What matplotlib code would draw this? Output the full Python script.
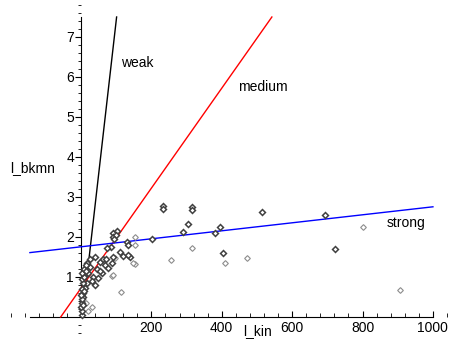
import numpy as np
import matplotlib.pyplot as plt
from matplotlib.ticker import MultipleLocator

plt.rcParams['font.family'] = ['Liberation Sans', 'DejaVu Sans']

# points drawn dark (overlapping duplicates) and light
dark_kin = [395, 513, 693, 404, 722, 303, 291, 381, 234, 234, 316, 316, 201, 130, 134,
            139, 120, 92, 101, 90, 84, 73, 40, 54, 68, 78, 26, 21, 35, 49, 16, 11, 7,
            134, 92, 87, 45, 60, 30, 18, 25, 62, 100, 95, 110, 40, 55, 70,
            2, 3, 1, 4, 2, 5, 3, 6, 2, 8, 4, 10, 1, 6, 9, 13, 15]
dark_bkmn = [2.25, 2.63, 2.55, 1.59, 1.71, 2.32, 2.12, 2.09, 2.77, 2.70, 2.74, 2.68, 1.95, 1.88, 1.80,
             1.49, 1.52, 2.09, 2.16, 2.00, 1.76, 1.72, 1.49, 1.38, 1.30, 1.22, 1.26, 1.09, 1.01, 0.97, 0.84, 0.72, 0.51,
             1.55, 1.51, 1.34, 1.20, 1.10, 0.90, 1.35, 1.45, 1.45, 2.05, 1.95, 1.62, 0.80, 1.15, 1.45,
             0.05, 0.15, 0.25, 0.35, 0.45, 0.60, 0.70, 0.85, 0.95, 1.00, 1.10, 1.20, 0.55, 0.30, 0.65, 1.30, 1.15]
light_kin = [802, 409, 472, 906, 316, 255, 153, 153, 97, 153, 87, 113, 30, 149, 92, 14, 20]
light_bkmn = [2.26, 1.36, 1.47, 0.675, 1.73, 1.43, 2.00, 1.80, 1.47, 1.33, 1.03, 0.63, 0.24, 1.34, 1.05, 0.34, 0.15]

# fitted lines: intercept, slope
fit_names = ["weak", "medium", "strong"]
fit_intercepts = [-0.3, 0.72, 1.755]
fit_slopes = [0.077, 0.0125, 0.001]
fit_colors = ["black", "red", "blue"]
fit_label_pos = [(114, 6.35), (446, 5.75), (869, 2.35)]

y_top = 7.5
x_left, x_right = -145, 1000

fig = plt.figure(figsize=(4.53, 3.39), dpi=100)
ax = fig.add_axes([0, 0, 1, 1])
ax.set_xlim(-230, 1057)
ax.set_ylim(-0.55, 7.925)

for b0, b1, c in zip(fit_intercepts, fit_slopes, fit_colors):
    x0 = max(x_left, -b0 / b1)
    x1 = min(x_right, (y_top - b0) / b1)
    xs = np.array([x0, x1])
    ax.plot(xs, b0 + b1 * xs, color=c, lw=1.0, zorder=3)

ax.plot(light_kin, light_bkmn, 'D', ms=2.9, mfc='white', mec='#8c8c8c', mew=0.8, zorder=4)
ax.plot(dark_kin, dark_bkmn, 'D', ms=3.0, mfc='white', mec='#404040', mew=1.1, zorder=5)

for name, (tx, ty) in zip(fit_names, fit_label_pos):
    ax.text(tx, ty, name, fontsize=10, ha='left', va='center')

ax.text(-200, 3.73, "l_bkmn", fontsize=10, ha='left', va='center')
ax.text(460, -0.36, "l_kin", fontsize=10, ha='left', va='center')

for s in ['top', 'right']:
    ax.spines[s].set_visible(False)
ax.spines['left'].set_position(('data', 0))
ax.spines['bottom'].set_position(('data', 0))
ax.spines['left'].set_bounds(0, y_top)
ax.spines['bottom'].set_bounds(x_left, x_right)

ax.set_xticks([200, 400, 600, 800, 1000])
ax.set_yticks([1, 2, 3, 4, 5, 6, 7])
ax.xaxis.set_minor_locator(MultipleLocator(40))
ax.yaxis.set_minor_locator(MultipleLocator(0.2))
ax.tick_params(axis='x', which='both', direction='in', labelsize=10, pad=3)
ax.tick_params(axis='x', which='major', length=4)
ax.tick_params(axis='x', which='minor', length=3)
ax.tick_params(axis='y', which='both', direction='out', labelsize=10, pad=1)
ax.tick_params(axis='y', which='major', length=4)
ax.tick_params(axis='y', which='minor', length=2.5)

fig.savefig("out.png", dpi=100)
